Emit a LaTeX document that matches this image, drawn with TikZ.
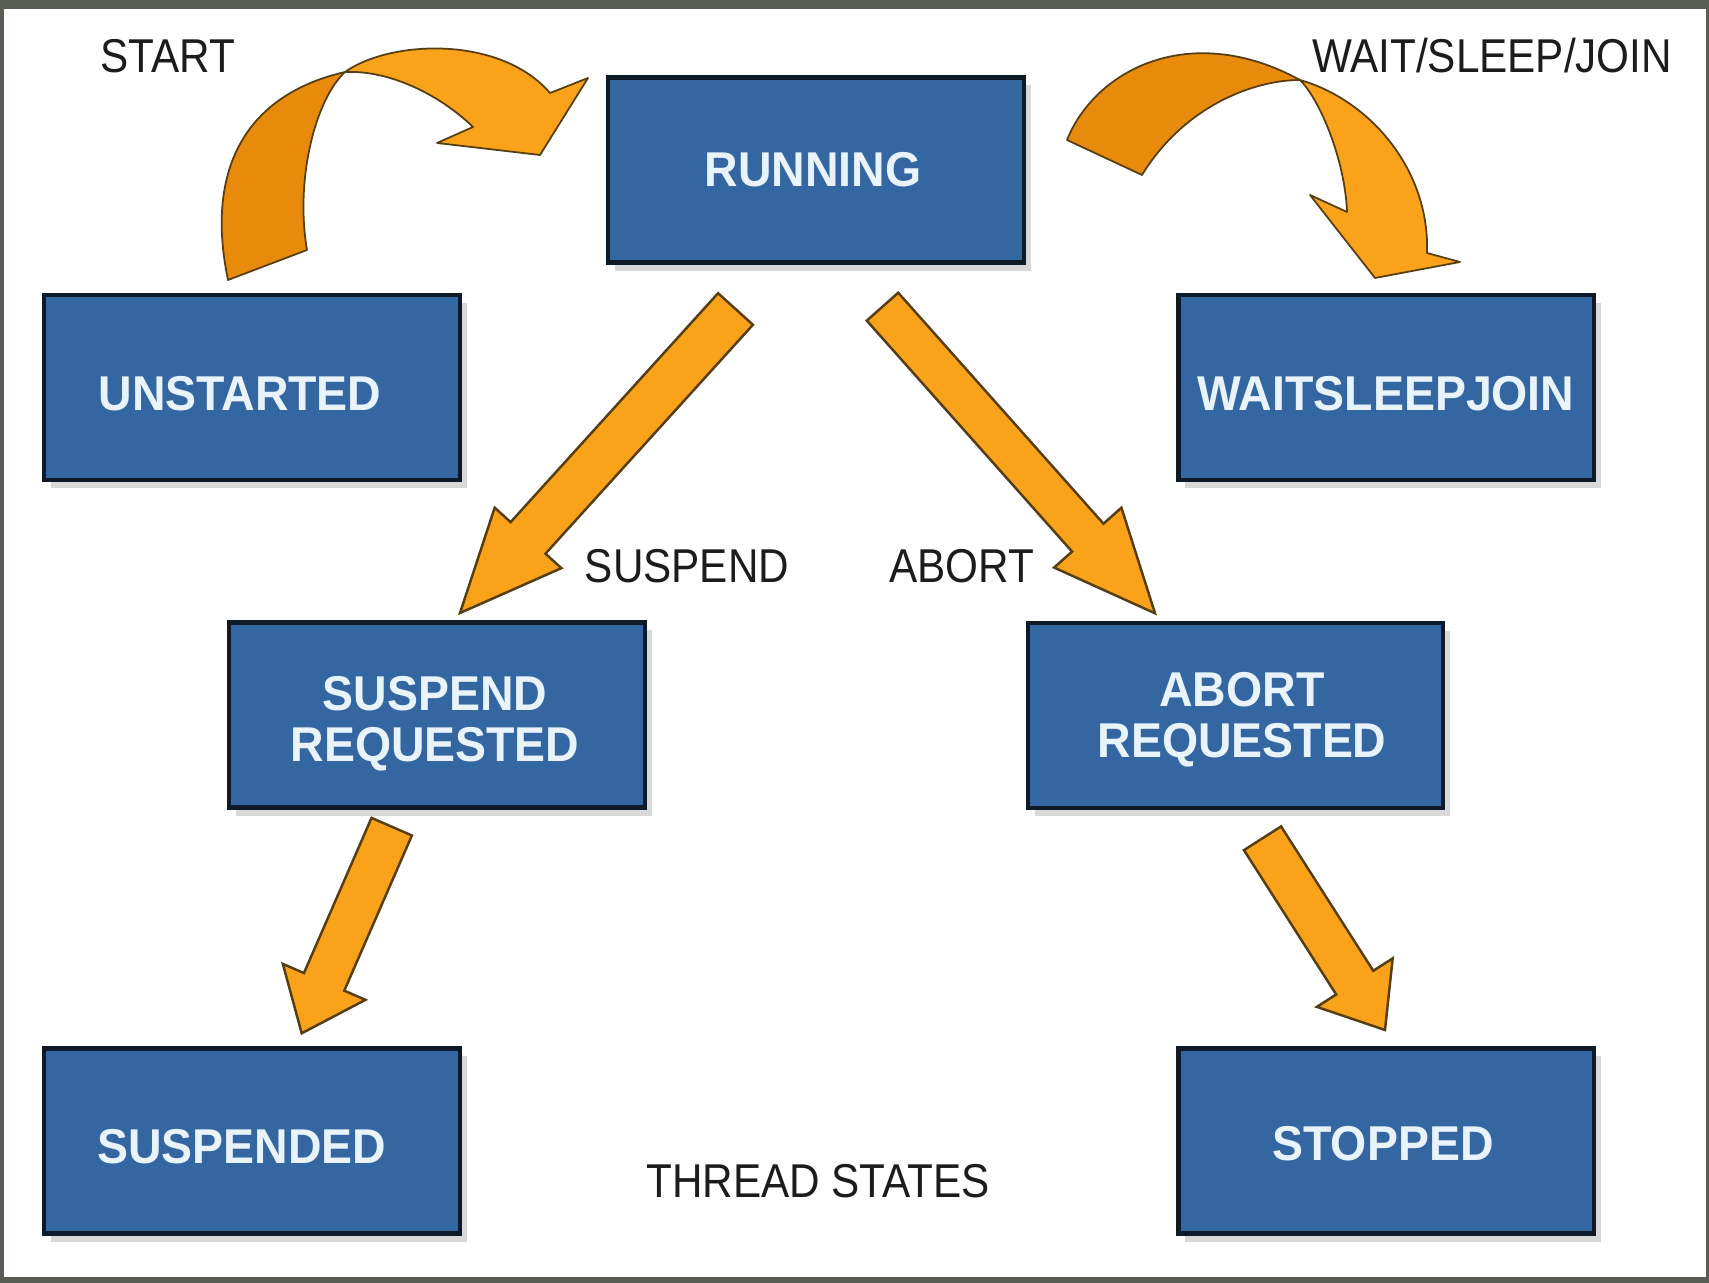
\documentclass[tikz,border=0pt]{standalone}
\usepackage{fontspec}
\setmainfont{Liberation Sans}
\newfontfamily\boxfont{Liberation Sans}[FakeStretch=0.95]
\newfontfamily\lblfont{Liberation Sans}[FakeStretch=0.89]
\usetikzlibrary{positioning}
\usetikzlibrary{calc}
\usetikzlibrary{shadows}
\definecolor{boxblue}{RGB}{52,102,162}
\definecolor{boxedge}{RGB}{14,26,40}
\definecolor{boxtext}{RGB}{232,243,252}
\definecolor{arroworange}{RGB}{250,162,25}
\definecolor{arrowdark}{RGB}{232,138,12}
\definecolor{arrowedge}{RGB}{84,62,18}
\definecolor{labelgray}{RGB}{28,28,28}
\definecolor{framegray}{RGB}{88,92,84}
\tikzset{
        head len/.store in=\headlen,
        head len=1cm,
        head wd/.store in=\headwd,
        head wd=0.45cm,
        shaft wd/.store in=\shaftwd,
        shaft wd=0.22cm
    }
\tikzset{statebox/.style={
          draw=boxedge, line width=1.2pt, fill=boxblue,
          minimum width=4.15cm, minimum height=1.85cm, inner sep=0pt,
          drop shadow={shadow xshift=0.07cm, shadow yshift=-0.08cm, opacity=0.3}
          },
        boxtxt/.style={
          align=center, text=boxtext, inner sep=0pt,
          font=\boxfont\bfseries\fontsize{13.9}{14.6}\selectfont
          },
        outlabel/.style={
          text=labelgray, inner sep=0pt,
          font=\lblfont\fontsize{13.5}{16}\selectfont
          },
        fat arrow/.style={
          draw=arrowedge, fill=arroworange, line width=0.7pt,
          to path={let \p1=(\tikztostart), \p2=(\tikztotarget),
            \n1={atan2(\y2-\y1,\x2-\x1)},
            \n2={veclen(\x2-\x1,\y2-\y1)-\headlen},
            \n3={\headwd-\shaftwd} in
            ($(\p1)+(\n1+90:\shaftwd)$) -- ++(\n1:\n2) -- ++(\n1+90:\n3) -- (\p2)
            -- ($(\p1)+(\n1:\n2)+(\n1-90:\headwd)$) -- ++(\n1+90:\n3)
            -- ($(\p1)+(\n1-90:\shaftwd)$) -- cycle}
          },
        bent arrow/.style={draw=arrowedge, line width=0.5pt, line join=round},
}

\begin{document}
\begin{tikzpicture}[x=0.01cm, y=-0.01cm]
      % frame
      \fill[framegray] (0,0) rectangle (1709,1283);
      \fill[white] (4,9) rectangle (1706,1277);
      \useasboundingbox (0,0) rectangle (1709,1283);

      % STATES (text sits a little off centre, as in the original)
      \node[statebox, label={[boxtxt, xshift=-0.03cm]center:RUNNING}] (running) at (816,170) {};
      \node[statebox, label={[boxtxt, xshift=-0.12cm, yshift=-0.065cm]center:UNSTARTED}] (unstarted) at (252,387.5) {};
      \node[statebox, label={[boxtxt, yshift=-0.06cm]center:WAITSLEEPJOIN}] (wsj) at (1386,387.5) {};
      \node[statebox, label={[boxtxt, xshift=-0.02cm, yshift=-0.09cm]center:SUSPEND\\REQUESTED}] (suspreq) at (437,715) {};
      \node[statebox, label={[boxtxt, xshift=0.065cm, yshift=-0.04cm]center:ABORT\\REQUESTED}] (abortreq) at (1235.5,715.5) {};
      \node[statebox, label={[boxtxt, xshift=-0.1cm, yshift=-0.06cm]center:SUSPENDED}] (suspended) at (252,1141) {};
      \node[statebox, label={[boxtxt, xshift=-0.03cm, yshift=-0.03cm]center:STOPPED}] (stopped) at (1386,1141) {};

      % LABELS
      \node[outlabel] (startlbl) at (168,56) {START};
      \node[outlabel] (wsjlbl) at (1492,56) {WAIT/SLEEP/JOIN};
      \node[outlabel] (suslbl) at (687,566) {SUSPEND};
      \node[outlabel] (abolbl) at (962,566) {ABORT};
      \node[outlabel] (title) at (818,1181) {THREAD STATES};

      % STRAIGHT ARROWS
      \coordinate (sus1) at (735.5,309);
      \coordinate (sus2) at (460,613);
      \coordinate (abo1) at (882.5,306.7);
      \coordinate (abo2) at (1155,613.3);
      \coordinate (susd1) at (391.7,826.7);
      \coordinate (susd2) at (301.7,1033.3);
      \coordinate (stop1) at (1262.5,838.3);
      \coordinate (stop2) at (1385,1030);
      \draw[fat arrow, shaft wd=0.235cm] (sus1) to (sus2);
      \draw[fat arrow, shaft wd=0.21cm] (abo1) to (abo2);
      \draw[fat arrow, head len=0.56cm] (susd1) to (susd2);
      \draw[fat arrow, head len=0.56cm] (stop1) to (stop2);

      % START (bent)
      \filldraw[bent arrow, fill=arrowdark] (228,280) .. controls (205,170) and (245,95) .. (345,72)
        .. controls (315,100) and (295,180) .. (307,250) -- cycle;
      \filldraw[bent arrow, fill=arroworange] (345,72) .. controls (390,40) and (500,35) .. (550,93)
        -- (588,78) -- (540,155) -- (437,143) -- (473,127)
        .. controls (440,95) and (390,70) .. (345,72) -- cycle;

      % WAIT/SLEEP/JOIN (bent)
      \filldraw[bent arrow, fill=arrowdark] (1067,140) .. controls (1095,70) and (1190,20) .. (1300,80)
        .. controls (1255,80) and (1185,105) .. (1142,175) -- cycle;
      \filldraw[bent arrow, fill=arroworange] (1300,80) .. controls (1370,100) and (1430,170) .. (1427,253)
        -- (1460,262) -- (1375,278) -- (1310,195) -- (1347,212)
        .. controls (1345,160) and (1320,100) .. (1300,80) -- cycle;
\end{tikzpicture}
\end{document}
